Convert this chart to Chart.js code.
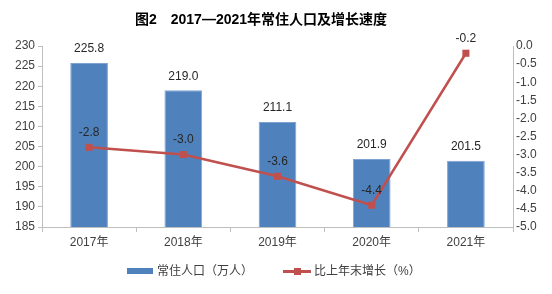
<!DOCTYPE html>
<html>
<head>
<meta charset="utf-8">
<script src="https://cdn.jsdelivr.net/npm/chart.js@4.4.1/dist/chart.umd.min.js"></script>
<style>
    html, body { margin: 0; padding: 0; background: #fff; }
    #wrap { position: relative; width: 552px; height: 294px; overflow: hidden; font-family: "Liberation Sans", "Noto Sans CJK SC", sans-serif; }
    #chart { position: absolute; left: 0; top: 0; }
    #title { position: absolute; left: 0; top: 8px; width: 522px; text-align: center; font-size: 14px; font-weight: bold; color: #000; white-space: pre; }
    .leg { position: absolute; top: 263px; font-size: 12px; color: #404040; white-space: nowrap; line-height: 16px; }
    .sw-bar { position: absolute; left: 127px; top: 268px; width: 26px; height: 6px; background: #4F81BD; }
    .sw-line { position: absolute; left: 283px; top: 270px; width: 28px; height: 3px; background: #C0504D; }
    .sw-mark { position: absolute; left: 294px; top: 268px; width: 7px; height: 7px; background: #C0504D; }
</style>
</head>
<body>
<div id="wrap">
    <canvas id="chart" width="552" height="294"></canvas>
    <div id="title">图2　2017—2021年常住人口及增长速度</div>
    <div class="sw-bar"></div>
    <div class="leg" style="left:157px;">常住人口（万人）</div>
    <div class="sw-line"></div>
    <div class="sw-mark"></div>
    <div class="leg" style="left:314px;">比上年末增长（%）</div>
</div>
<script>
const years = ['2017年', '2018年', '2019年', '2020年', '2021年'];
const population = [225.8, 219.0, 211.1, 201.9, 201.5];   // 万人
const growth = [-2.8, -3.0, -3.6, -4.4, -0.2];           // %

const FONT = '"Liberation Sans", "Noto Sans CJK SC", sans-serif';
const TEXT = '#404040';
const AXIS = '#bfbfbf';

// draws the value above each bar / point
const valueLabels = {
    id: 'valueLabels',
    afterDatasetsDraw(chart) {
        const ctx = chart.ctx;
        ctx.save();
        ctx.font = '12px ' + FONT;
        ctx.fillStyle = '#262626';
        ctx.textAlign = 'center';
        ctx.textBaseline = 'middle';
        chart.data.datasets.forEach((ds, i) => {
            const meta = chart.getDatasetMeta(i);
            const off = ds.type === 'line' ? 15 : 14;
            meta.data.forEach((el, j) => {
                ctx.fillText(ds.data[j].toFixed(1), el.x, el.y - off);
            });
        });
        ctx.restore();
    }
};

const ctx = document.getElementById('chart').getContext('2d');
new Chart(ctx, {
    type: 'bar',
    data: {
        labels: years,
        datasets: [{
            type: 'line',
            label: '比上年末增长（%）',
            data: growth,
            yAxisID: 'y1',
            borderColor: '#C0504D',
            backgroundColor: '#C0504D',
            borderWidth: 2.5,
            pointStyle: 'rect',
            pointRadius: 5,
            pointBorderWidth: 0,
            tension: 0,
            order: 0
        }, {
            type: 'bar',
            label: '常住人口（万人）',
            data: population,
            yAxisID: 'y',
            backgroundColor: '#4F81BD',
            borderColor: '#7ea3d3',
            borderWidth: 1,
            barPercentage: 0.4,
            categoryPercentage: 1,
            order: 1
        }]
    },
    options: {
        responsive: false,
        animation: false,
        devicePixelRatio: 1,
        layout: { padding: { top: 46, left: 0, right: 0, bottom: 0 } },
        plugins: {
            legend: { display: false },
            title: { display: false },
            tooltip: { enabled: false }
        },
        scales: {
            x: {
                offset: true,
                grid: { offset: true, drawOnChartArea: false, drawTicks: true, tickLength: 5, color: AXIS },
                border: { display: true, color: AXIS },
                ticks: { color: TEXT, font: { size: 12, family: FONT }, padding: 3 },
                afterFit(scale) { scale.height = 67; }
            },
            y: {
                position: 'left',
                min: 185,
                max: 230,
                grid: { drawOnChartArea: false, drawTicks: true, tickLength: 4, color: AXIS },
                border: { display: true, color: AXIS },
                ticks: { stepSize: 5, color: TEXT, font: { size: 12, family: FONT }, padding: 3 },
                afterFit(scale) { scale.width = 42; }
            },
            y1: {
                position: 'right',
                min: -5,
                max: 0,
                grid: { drawOnChartArea: false, drawTicks: false, color: AXIS },
                border: { display: true, color: AXIS },
                ticks: {
                    stepSize: 0.5,
                    color: TEXT,
                    font: { size: 12, family: FONT },
                    padding: 3,
                    callback: v => v.toFixed(1)
                },
                afterFit(scale) { scale.width = 39; }
            }
        }
    },
    plugins: [valueLabels]
});
</script>
</body>
</html>
